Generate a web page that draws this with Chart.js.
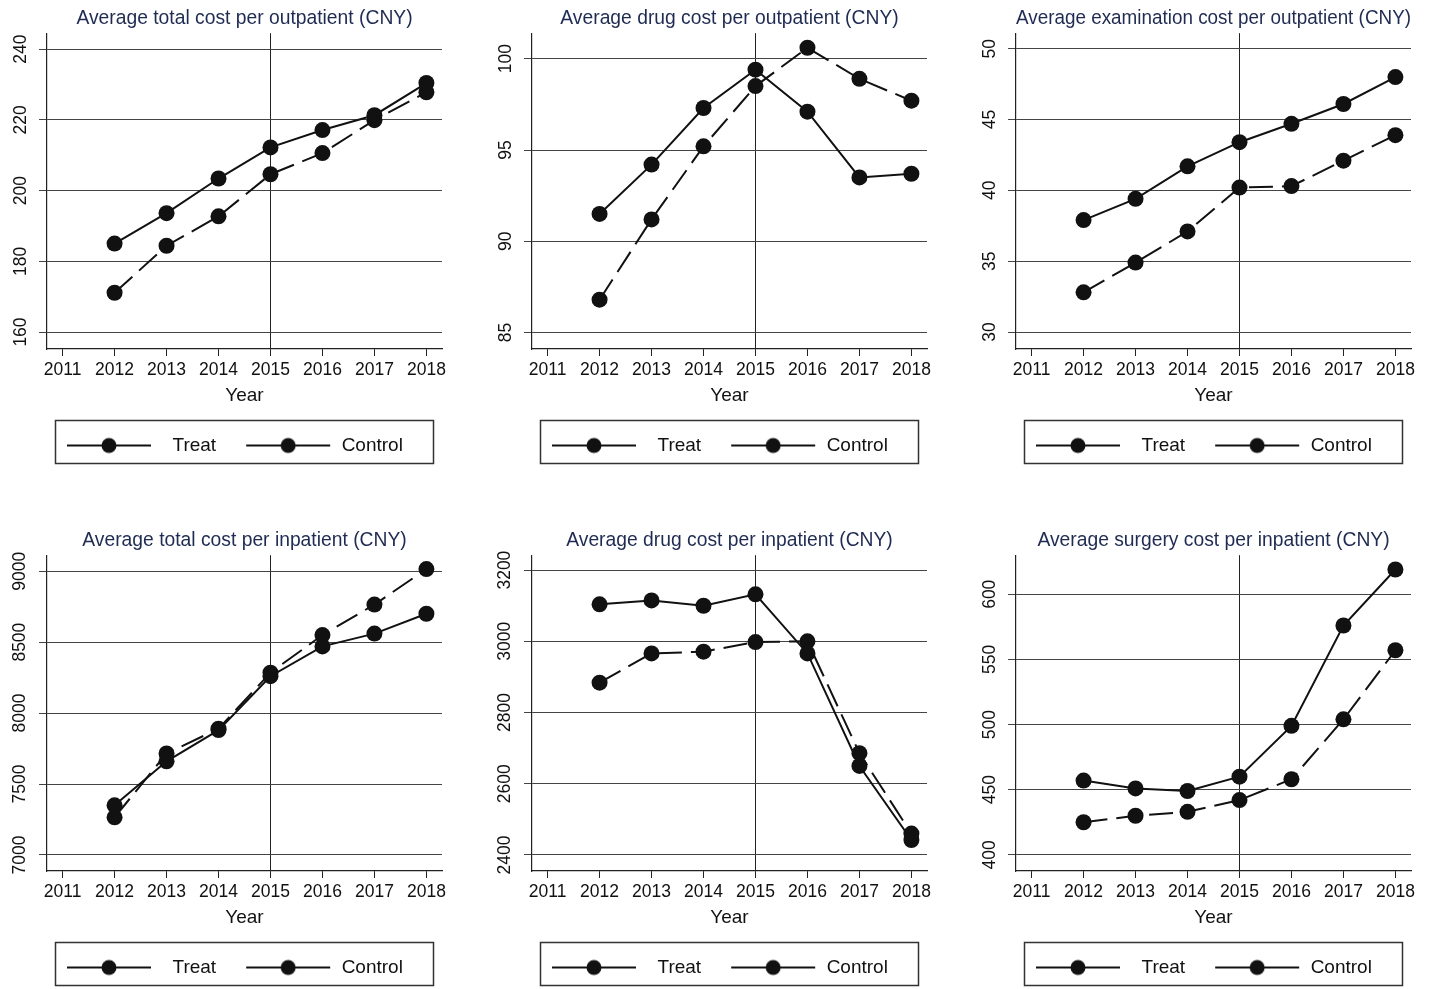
<!DOCTYPE html>
<html>
<head>
<meta charset="utf-8">
<script src="https://cdn.jsdelivr.net/npm/chart.js@4.4.1/dist/chart.umd.min.js"></script>
<style>
	body { margin: 0; background: #fff; width: 1434px; height: 989px; overflow: hidden; position: relative; }
	.panel { position: absolute; }
</style>
</head>
<body>
<div class="panel" style="left:0px;top:0px"><canvas id="c0" width="478" height="467"></canvas></div>
<div class="panel" style="left:485px;top:0px"><canvas id="c1" width="478" height="467"></canvas></div>
<div class="panel" style="left:969px;top:0px"><canvas id="c2" width="478" height="467"></canvas></div>
<div class="panel" style="left:0px;top:522px"><canvas id="c3" width="478" height="467"></canvas></div>
<div class="panel" style="left:485px;top:522px"><canvas id="c4" width="478" height="467"></canvas></div>
<div class="panel" style="left:969px;top:522px"><canvas id="c5" width="478" height="467"></canvas></div>
<script>
// --- Data ---

const YEARS = [2011, 2012, 2013, 2014, 2015, 2016, 2017, 2018];
const DATA_YEARS = [2012, 2013, 2014, 2015, 2016, 2017, 2018];
const POLICY_YEAR = 2015;

const outTotalTreat = [185.0, 193.6, 203.4, 212.2, 217.1, 221.3, 230.4];
const outTotalControl = [171.1, 184.4, 192.7, 204.6, 210.6, 219.9, 227.8];
const outTotalTicks = [160, 180, 200, 220, 240];

const outDrugTreat = [91.5, 94.2, 97.3, 99.4, 97.1, 93.5, 93.7];
const outDrugControl = [86.8, 91.2, 95.2, 98.5, 100.6, 98.9, 97.7];
const outDrugTicks = [85, 90, 95, 100];

const outExamTreat = [37.9, 39.4, 41.7, 43.4, 44.7, 46.1, 48.0];
const outExamControl = [32.8, 34.9, 37.1, 40.2, 40.3, 42.1, 43.9];
const outExamTicks = [30, 35, 40, 45, 50];

const inTotalTreat = [7350, 7660, 7880, 8260, 8470, 8560, 8700];
const inTotalControl = [7265, 7715, 7890, 8285, 8550, 8765, 9015];
const inTotalTicks = [7000, 7500, 8000, 8500, 9000];

const inDrugTreat = [3104, 3115, 3100, 3132, 2966, 2650, 2442];
const inDrugControl = [2884, 2966, 2971, 2998, 3000, 2686, 2460];
const inDrugTicks = [2400, 2600, 2800, 3000, 3200];

const inSurgTreat = [457, 451, 449, 460, 499, 576, 619];
const inSurgControl = [425, 430, 433, 442, 458, 504, 557];
const inSurgTicks = [400, 450, 500, 550, 600];

// panel list: title, series, y ticks, y range (+ label gap for the rotated y labels)
const PANELS = [
	{ id: 'c0', title: 'Average total cost per outpatient (CNY)', treat: outTotalTreat, control: outTotalControl, ticks: outTotalTicks, min: 155.2, max: 244.5, yPad: 3 },
	{ id: 'c1', title: 'Average drug cost per outpatient (CNY)', treat: outDrugTreat, control: outDrugControl, ticks: outDrugTicks, min: 84.1, max: 101.4, yPad: 3 },
	{ id: 'c2', title: 'Average examination cost per outpatient (CNY)', treat: outExamTreat, control: outExamControl, ticks: outExamTicks, min: 28.8, max: 51.1, yPad: 8 },
	{ id: 'c3', title: 'Average total cost per inpatient (CNY)', treat: inTotalTreat, control: inTotalControl, ticks: inTotalTicks, min: 6887, max: 9113, yPad: -1 },
	{ id: 'c4', title: 'Average drug cost per inpatient (CNY)', treat: inDrugTreat, control: inDrugControl, ticks: inDrugTicks, min: 2355, max: 3242, yPad: -1 },
	{ id: 'c5', title: 'Average surgery cost per inpatient (CNY)', treat: inSurgTreat, control: inSurgControl, ticks: inSurgTicks, min: 387.6, max: 630, yPad: 3 }
];

// --- Style ---
const FONT = '"Liberation Sans", Arial, Helvetica, sans-serif';
const INK = '#111';
const GRID = '#444';
const TITLE_COLOR = '#1f2b52';
const DASH = [24, 9];
const KEY_W = 104;

// --- Helpers ---

/**
 * Builds a legend key: line with a dot in the middle.
 * lead = blank room before the line, so the two keys sit like Stata's.
 * @param {number[]} dash
 * @param {number} lead
 */
const makeKey = (dash, lead) => {
	const c = document.createElement('canvas');
	const len = 84;
	c.width = KEY_W; c.height = 18;
	const ctx = c.getContext('2d');
	ctx.strokeStyle = INK;
	ctx.lineWidth = 2;
	ctx.setLineDash(dash);
	ctx.beginPath();
	ctx.moveTo(lead, 9); ctx.lineTo(lead + len, 9);
	ctx.stroke();
	ctx.fillStyle = INK;
	ctx.beginPath();
	ctx.arc(lead + len / 2, 9, 7.5, 0, Math.PI * 2);
	ctx.fill();
	return c;
};

const KEYS = [makeKey([], 8), makeKey([38, 6, 40], 18)];

// draws the box round the legend
const legendFrame = {
	id: 'legendFrame',
	afterDraw(chart) {
		const lg = chart.legend;
		const area = chart.chartArea;
		if (!lg) return;
		const ctx = chart.ctx;
		ctx.save();
		ctx.strokeStyle = '#333';
		ctx.lineWidth = 1.5;
		ctx.strokeRect(area.left + 8.5, lg.top - 3.5, area.right - area.left - 17, lg.bottom - lg.top + 2);
		ctx.restore();
	}
};

/**
 * Renders one panel.
 */
function renderPanel(p) {
	const ctx = document.getElementById(p.id).getContext('2d');
	const toPoints = vals => vals.map((v, i) => ({ x: DATA_YEARS[i], y: v }));

	new Chart(ctx, {
		type: 'line',
		data: {
			datasets: [
				{
					label: 'Treat',
					data: toPoints(p.treat),
					borderColor: INK,
					backgroundColor: INK,
					borderWidth: 2,
					pointRadius: 8,
					pointBorderWidth: 0,
					tension: 0
				},
				{
					label: 'Control',
					data: toPoints(p.control),
					borderColor: INK,
					backgroundColor: INK,
					borderWidth: 2,
					borderDash: DASH,
					pointRadius: 8,
					pointBorderWidth: 0,
					tension: 0
				}
			]
		},
		options: {
			responsive: false,
			animation: false,
			layout: { padding: { left: 8, right: 36, top: 7, bottom: 2 } },
			plugins: {
				title: {
					display: true, text: p.title, fullSize: false, color: TITLE_COLOR,
					font: { family: FONT, size: 19.3, weight: 'normal' },
					padding: { top: 0, bottom: 3 }
				},
				legend: {
					position: 'bottom', fullSize: false, align: 'start',
					labels: {
						usePointStyle: true,
						pointStyleWidth: KEY_W,
						boxHeight: 18,
						padding: 12,
						color: INK,
						font: { family: FONT, size: 19 },
						generateLabels: chart => Chart.defaults.plugins.legend.labels.generateLabels(chart)
							.map((item, i) => ({ ...item, pointStyle: KEYS[i], lineDash: [] }))
					}
				},
				tooltip: { enabled: false }
			},
			scales: {
				x: {
					type: 'linear', min: 2010.7, max: 2018.3,
					afterBuildTicks: s => { s.ticks = YEARS.map(v => ({ value: v })); },
					afterFit: s => { s.height = 75; },
					ticks: { callback: v => String(v), color: INK, font: { family: FONT, size: 17.5 }, padding: 4, maxRotation: 0 },
					grid: {
						color: c => (c.tick && c.tick.value === POLICY_YEAR ? '#222' : 'rgba(0,0,0,0)'),
						tickColor: '#222', tickLength: 7, lineWidth: 1
					},
					border: { display: true, color: '#222', width: 1.2 },
					title: { display: true, text: 'Year', color: INK, font: { family: FONT, size: 19 }, padding: { top: 0, bottom: 17 } }
				},
				y: {
					min: p.min, max: p.max,
					afterBuildTicks: s => { s.ticks = p.ticks.map(v => ({ value: v })); },
					afterFit: s => { s.width = 39; },
					ticks: {
						callback: v => String(v), color: INK, font: { family: FONT, size: 17.5 },
						minRotation: 90, maxRotation: 90, crossAlign: 'center', padding: p.yPad
					},
					grid: { color: GRID, tickColor: GRID, tickLength: 8, lineWidth: 1 },
					border: { display: true, color: '#222', width: 1.2 }
				}
			}
		},
		plugins: [legendFrame]
	});
}

PANELS.forEach(renderPanel);
</script>
</body>
</html>
